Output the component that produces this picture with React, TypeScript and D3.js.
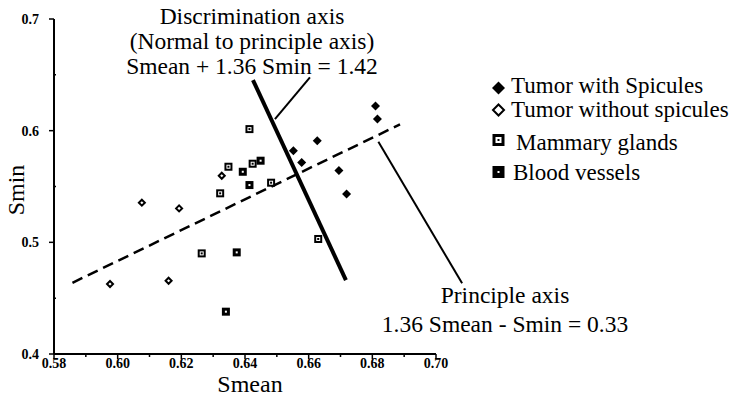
import React from 'react';
import * as d3 from 'd3';

// tick values
const xTicks = [0.58, 0.60, 0.62, 0.64, 0.66, 0.68, 0.70];
const xMinorTicks = [0.59, 0.61, 0.63, 0.65, 0.67, 0.69];
const yTicks = [0.4, 0.5, 0.6, 0.7];
const yMinorTicks = [0.45, 0.55, 0.65];

// series (Smean, Smin)
const spiculesSmean = [0.6552, 0.6578, 0.6627, 0.6695, 0.6719, 0.6810, 0.6816];
const spiculesSmin = [0.5820, 0.5716, 0.5910, 0.5643, 0.5432, 0.6220, 0.6104];

const noSpiculesSmean = [0.6327, 0.6076, 0.6193, 0.5976, 0.6160];
const noSpiculesSmin = [0.5596, 0.5355, 0.5304, 0.4627, 0.4656];

const glandsSmean = [0.6414, 0.6264, 0.6348, 0.6482, 0.6630, 0.6322, 0.6424];
const glandsSmin = [0.6014, 0.4901, 0.5677, 0.5534, 0.5030, 0.5439, 0.5704];

const vesselsSmean = [0.6393, 0.6449, 0.6414, 0.6374, 0.6340];
const vesselsSmin = [0.5632, 0.5731, 0.5513, 0.4910, 0.4379];

// annotation lines, endpoints in data units
const principleAxis = [[0.5858, 0.4638], [0.6887, 0.6056]];
const discriminationAxis = [[0.6425, 0.6453], [0.6717, 0.4662]];
const discriminationLeader = [[0.6604, 0.6477], [0.6494, 0.6104]];
const principleLeader = [[0.6819, 0.5901], [0.7082, 0.4633]];

const legendLabels = ['Tumor with Spicules', 'Tumor without spicules', 'Mammary glands', 'Blood vessels'];
const discriminationText = ['Discrimination axis', '(Normal to principle axis)', 'Smean + 1.36 Smin = 1.42'];
const principleText = ['Principle axis', '1.36 Smean - Smin = 0.33'];

const FONT = "'Liberation Serif', 'DejaVu Serif', serif";

type Kind = 'filledDiamond' | 'hollowDiamond' | 'gland' | 'vessel';

function Marker({ kind, x, y, s }: { kind: Kind; x: number; y: number; s: number }) {
    const h = s / 2;
    if (kind === 'filledDiamond') {
        return <path d={`M${x},${y - h}L${x + h},${y}L${x},${y + h}L${x - h},${y}Z`} fill="#000" />;
    }
    if (kind === 'hollowDiamond') {
        const k = h - 1;
        return <path d={`M${x},${y - k}L${x + k},${y}L${x},${y + k}L${x - k},${y}Z`} fill="#fff" stroke="#000" strokeWidth={2} />;
    }
    if (kind === 'gland') {
        return (
            <g>
                <rect x={x - h} y={y - h} width={s} height={s} fill="#000" />
                <rect x={x - h * 0.5} y={y - h * 0.5} width={h} height={h} fill="#fff" />
                <rect x={x - 1} y={y - 1} width={2} height={2} fill="#000" />
            </g>
        );
    }
    return (
        <g>
            <rect x={x - h} y={y - h} width={s} height={s} fill="#000" />
            <rect x={x - 1} y={y - 1} width={2} height={2} fill="#fff" />
        </g>
    );
}

export default function App() {
    const width = 737;
    const height = 396;

    const x = d3.scaleLinear().domain([0.58, 0.70]).range([54, 436]);
    const y = d3.scaleLinear().domain([0.4, 0.7]).range([354, 19]);

    const line = d3.line<number[]>().x(d => x(d[0])).y(d => y(d[1]));

    const series: { kind: Kind; xs: number[]; ys: number[]; size: number }[] = [
        { kind: 'filledDiamond', xs: spiculesSmean, ys: spiculesSmin, size: 9 },
        { kind: 'hollowDiamond', xs: noSpiculesSmean, ys: noSpiculesSmin, size: 8 },
        { kind: 'gland', xs: glandsSmean, ys: glandsSmin, size: 8 },
        { kind: 'vessel', xs: vesselsSmean, ys: vesselsSmin, size: 8 },
    ];

    const legendRows = [
        { kind: 'filledDiamond' as Kind, mx: 498.5, my: 88, ty: 93, tx: 511, s: 13 },
        { kind: 'hollowDiamond' as Kind, mx: 498.5, my: 110, ty: 117, tx: 511, s: 13 },
        { kind: 'gland' as Kind, mx: 498.5, my: 140, ty: 150, tx: 516, s: 12 },
        { kind: 'vessel' as Kind, mx: 498.5, my: 172, ty: 180, tx: 513, s: 12 },
    ];

    return (
        <svg width={width} height={height} style={{ position: 'absolute', left: 0, top: 0, background: '#fff', fontFamily: FONT }}>
            {/* axes */}
            <line x1={x(0.58)} x2={x(0.70)} y1={y(0.4)} y2={y(0.4)} stroke="#000" strokeWidth={2} />
            <line x1={x(0.58)} x2={x(0.58)} y1={y(0.4)} y2={y(0.7)} stroke="#000" strokeWidth={2} />
            {xTicks.map(t => (
                <g key={'xt' + t}>
                    <line x1={x(t)} x2={x(t)} y1={y(0.4)} y2={y(0.4) + 5} stroke="#000" strokeWidth={1.5} />
                    <text x={x(t)} y={368} textAnchor="middle" fontSize={14} fontWeight="bold">{t.toFixed(2)}</text>
                </g>
            ))}
            {xMinorTicks.map(t => (
                <line key={'xm' + t} x1={x(t)} x2={x(t)} y1={y(0.4)} y2={y(0.4) + 3} stroke="#000" strokeWidth={1.5} />
            ))}
            {yTicks.map(t => (
                <g key={'yt' + t}>
                    <line x1={x(0.58) - 5} x2={x(0.58)} y1={y(t)} y2={y(t)} stroke="#000" strokeWidth={1.5} />
                    <text x={39} y={y(t) + 5} textAnchor="end" fontSize={14} fontWeight="bold">{String(t)}</text>
                </g>
            ))}
            {yMinorTicks.map(t => (
                <line key={'ym' + t} x1={x(0.58)} x2={x(0.58) + 2} y1={y(t)} y2={y(t)} stroke="#000" strokeWidth={1.5} />
            ))}
            <text x={250} y={392} textAnchor="middle" fontSize={24}>Smean</text>
            <text transform="translate(24,190) rotate(-90)" textAnchor="middle" fontSize={24}>Smin</text>

            {/* principle and discrimination axes */}
            <path d={line(principleAxis) || ''} fill="none" stroke="#000" strokeWidth={2.5} strokeDasharray="11,6" />
            <path d={line(discriminationAxis) || ''} fill="none" stroke="#000" strokeWidth={4} />
            <path d={line(discriminationLeader) || ''} fill="none" stroke="#000" strokeWidth={2} />
            <path d={line(principleLeader) || ''} fill="none" stroke="#000" strokeWidth={2} />

            {/* points */}
            {series.map(s => s.xs.map((v, i) => (
                <Marker key={s.kind + i} kind={s.kind} x={x(v)} y={y(s.ys[i])} s={s.size} />
            )))}

            {/* annotations */}
            {discriminationText.map((t, i) => (
                <text key={t} x={252} y={24 + i * 25} textAnchor="middle" fontSize={23.5}>{t}</text>
            ))}
            {principleText.map((t, i) => (
                <text key={t} x={505} y={303 + i * 28.5} textAnchor="middle" fontSize={23.5}>{t}</text>
            ))}

            {/* legend */}
            {legendRows.map((r, i) => (
                <g key={legendLabels[i]}>
                    <Marker kind={r.kind} x={r.mx} y={r.my} s={r.s} />
                    <text x={r.tx} y={r.ty} fontSize={23}>{legendLabels[i]}</text>
                </g>
            ))}
        </svg>
    );
}
